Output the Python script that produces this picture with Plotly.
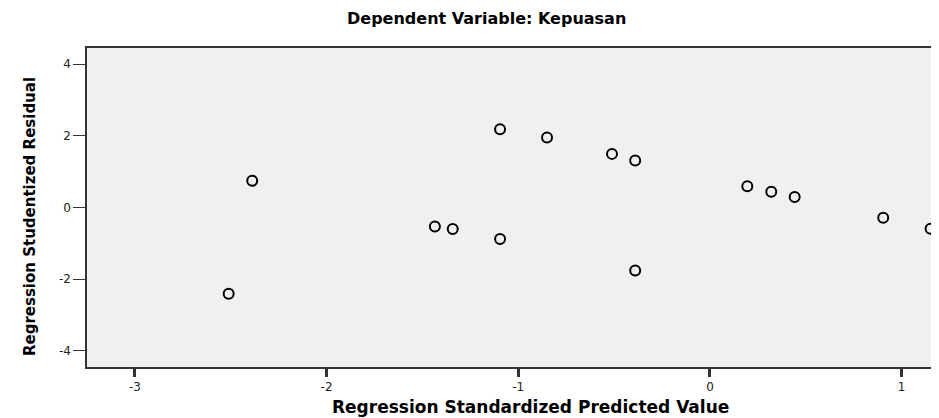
import plotly.graph_objects as go

# Data
pred_values = [-2.511, -2.388, -1.435, -1.342, -1.095, -1.095, -0.850, -0.511,
               -0.390, -0.390, 0.195, 0.320, 0.442, 0.904, 1.151]
resid_values = [-2.404, 0.744, -0.53, -0.60, 2.18, -0.88, 1.95, 1.496,
                1.31, -1.755, 0.596, 0.437, 0.29, -0.287, -0.593]

x_ticks = [-3, -2, -1, 0, 1]
y_ticks = [-4, -2, 0, 2, 4]

title_text = "Dependent Variable: Kepuasan"
x_title = "Regression Standardized Predicted Value"
y_title = "Regression Studentized Residual"

fig = go.Figure()
fig.add_trace(go.Scatter(
    x=pred_values, y=resid_values, mode="markers",
    marker=dict(symbol="circle-open", size=10, color="black",
                line=dict(width=2, color="black")),
    showlegend=False, hoverinfo="x+y",
))

fig.update_layout(
    width=931, height=410,
    margin=dict(l=79, r=0, t=40, b=51),
    paper_bgcolor="white",
    plot_bgcolor="#f0f0f0",
    font=dict(family="DejaVu Sans", color="black"),
    annotations=[
        dict(text="<b>" + title_text + "</b>", xref="paper", yref="paper",
             x=0.469, y=1.0, yshift=30, xanchor="center", yanchor="middle",
             showarrow=False, font=dict(family="DejaVu Sans", size=16, color="black")),
        dict(text="<b>" + x_title + "</b>", xref="paper", yref="paper",
             x=0.52, y=0.0, yshift=-40, xanchor="center", yanchor="middle",
             showarrow=False, font=dict(family="DejaVu Sans", size=17, color="black")),
        dict(text="<b>" + y_title + "</b>", xref="paper", yref="paper",
             x=0.0, xshift=-57, y=0.47, xanchor="center", yanchor="middle",
             textangle=-90, showarrow=False,
             font=dict(family="DejaVu Sans", size=15, color="black")),
    ],
)

fig.update_xaxes(
    range=[-3.25, 1.195], tickvals=x_ticks, ticktext=[str(v) for v in x_ticks],
    showgrid=False, zeroline=False,
    showline=True, mirror=True, linecolor="#333333", linewidth=1.5,
    ticks="outside", ticklen=8, tickwidth=2.5, tickcolor="#333333",
    tickfont=dict(family="DejaVu Sans", size=12, color="#222222"),
)
fig.update_yaxes(
    range=[-4.45, 4.45], tickvals=y_ticks, ticktext=[str(v) for v in y_ticks],
    showgrid=False, zeroline=False,
    showline=True, mirror=False, linecolor="#333333", linewidth=1.5,
    ticks="outside", ticklen=12, tickwidth=1, tickcolor="#333333",
    tickfont=dict(family="DejaVu Sans", size=12, color="#222222"),
)

fig.write_html("out.html")
